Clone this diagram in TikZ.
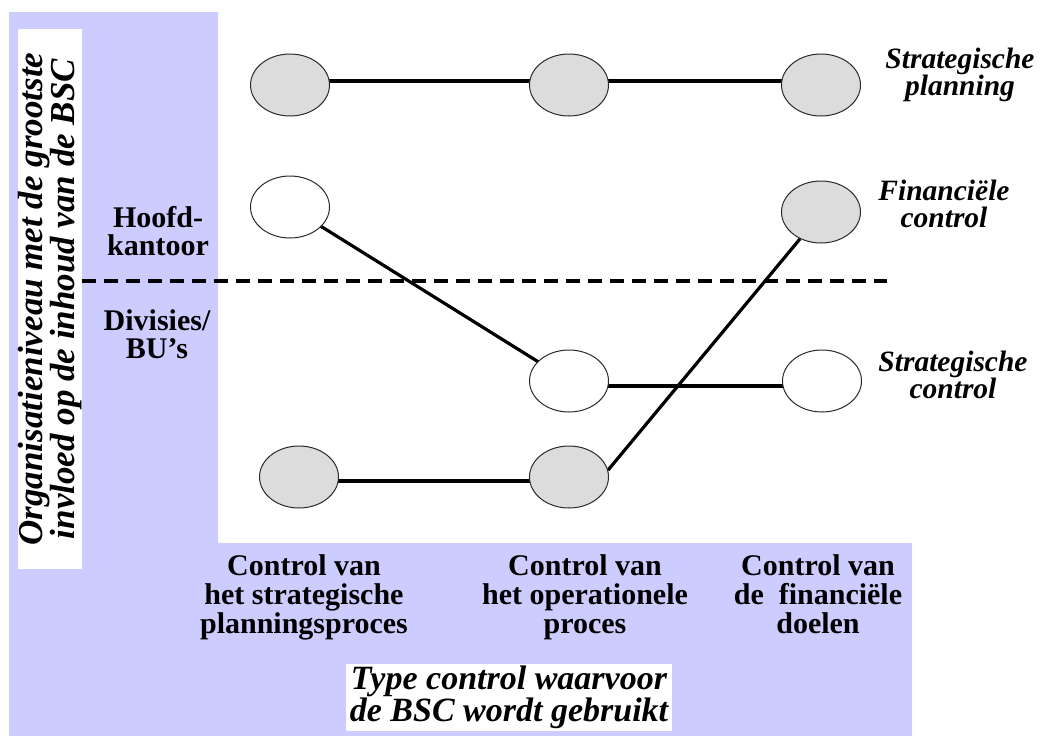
\documentclass[tikz,border=0pt]{standalone}
\usepackage{fontspec}
\setmainfont{Liberation Serif}
\usetikzlibrary{shapes.geometric}
\pgfdeclarelayer{bg}
\pgfsetlayers{bg,main}

\definecolor{lavender}{HTML}{CCCCFF}
\definecolor{nodegray}{HTML}{DCDCDC}
\definecolor{rimgray}{HTML}{2A2A2A}

\tikzset{
  oval/.style={ellipse, draw=rimgray, line width=1pt, minimum width=79pt,
               minimum height=62pt, inner sep=0pt},
  grayoval/.style={oval, fill=nodegray},
  whiteoval/.style={oval, fill=white},
  heavylink/.style={line width=4.8pt},
  lightlink/.style={line width=3.2pt},
  levelrule/.style={line width=4.8pt, dash pattern=on 14pt off 8pt},
  uprightlabel/.style={anchor=north, align=center, inner sep=0pt,
               font=\fontsize{30}{29}\selectfont\bfseries},
  levellabel/.style={anchor=north, align=center, inner sep=0pt,
               font=\fontsize{30}{28}\selectfont\bfseries},
  slantlabel/.style={anchor=north, align=center, inner sep=0pt,
               font=\fontsize{29.5}{27}\selectfont\bfseries\itshape},
}

\begin{document}
\begin{tikzpicture}[x=1pt, y=-1pt]
\path[use as bounding box] (0,0) rectangle (1042,736);

% lavender frame along the left side and the bottom
\begin{pgfonlayer}{bg}
  \fill[lavender] (9,12) -- (218,12) -- (218,543) -- (912,543)
                  -- (912,736) -- (9,736) -- cycle;
\end{pgfonlayer}

% vertical axis title
\node[rotate=90, fill=white, minimum width=540pt, minimum height=62pt,
      inner sep=0pt, align=center,
      font=\fontsize{35}{31}\selectfont\bfseries\itshape] (yaxis) at (50,299)
  {Organisatieniveau met de grootste\\invloed op de inhoud van de BSC};

% horizontal axis title
\node[anchor=north, fill=white, inner xsep=4pt, inner ysep=2pt, align=center,
      font=\fontsize{34}{28}\selectfont\bfseries\itshape] (xaxis) at (509,664)
  {Type control waarvoor\\de BSC wordt gebruikt};

% organisation levels
\node[levellabel] (hq)  at (158,206.6) {Hoofd-\\kantoor};
\node[levellabel] (div) at (157,309.3) {Divisies/\\BU’s};

% control types
\node[uprightlabel] (ct1) at (304,554) {Control van\\het strategische\\planningsproces};
\node[uprightlabel] (ct2) at (585,554) {Control van\\het operationele\\proces};
\node[uprightlabel] (ct3) at (818,554) {Control van\\de~ financiële\\doelen};

% control styles
\node[slantlabel] (lsp) at (960,48)  {Strategische\\planning};
\node[slantlabel] (lfc) at (944,180) {Financiële\\control};
\node[slantlabel] (lsc) at (953,351) {Strategische\\control};

% profile points
\node[grayoval]  (sp1) at (290,85)  {};
\node[grayoval]  (sp2) at (569,85)  {};
\node[grayoval]  (sp3) at (821,85)  {};
\node[whiteoval] (hk)  at (290,207) {};
\node[grayoval]  (fc)  at (821,212) {};
\node[whiteoval] (op)  at (569,381) {};
\node[whiteoval] (sc)  at (822,381) {};
\node[grayoval]  (bl)  at (299,477) {};
\node[grayoval]  (bm)  at (569,477) {};

% boundary between head office and divisions
\coordinate (ruleL) at (82,281);
\coordinate (ruleR) at (887,281);

\begin{pgfonlayer}{bg}
  \draw[levelrule] (ruleL) -- (ruleR);
  % strategic planning profile
  \draw[heavylink] ([yshift=4pt]sp1.center) -- ([yshift=4pt]sp2.center);
  \draw[heavylink] ([yshift=4pt]sp2.center) -- ([yshift=4pt]sp3.center);
  % strategic control profile
  \draw[lightlink] (hk.center) -- (op.center);
  \draw[heavylink] ([yshift=-5pt]op.center) -- ([yshift=-5pt]sc.center);
  % financial control profile
  \draw[heavylink] ([yshift=-4pt]bl.center) -- ([yshift=-4pt]bm.center);
  \draw[lightlink] (bm.10) -- (fc.232);
\end{pgfonlayer}
\end{tikzpicture}
\end{document}
